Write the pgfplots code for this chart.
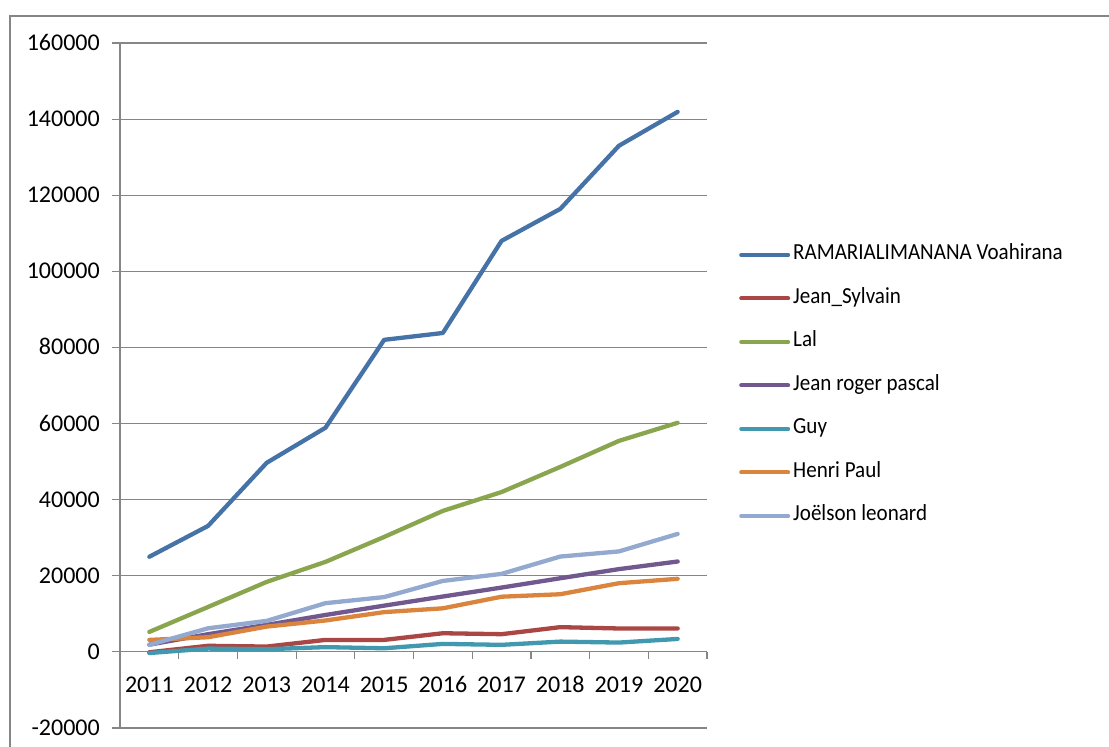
\documentclass[border=0pt]{standalone}
\usepackage{pgfplots}
\pgfplotsset{compat=1.18}
\usepackage{fontspec}
\setmainfont{Carlito}
\newfontfamily\legfont[FakeStretch=0.915]{Carlito}

\definecolor{sBlue}{HTML}{4572A7}
\definecolor{sRed}{HTML}{AA4643}
\definecolor{sGreen}{HTML}{89A54E}
\definecolor{sPurple}{HTML}{71588F}
\definecolor{sTeal}{HTML}{4198AF}
\definecolor{sOrange}{HTML}{DB843D}
\definecolor{sLight}{HTML}{93A9CF}
\definecolor{gridgray}{HTML}{868686}

\begin{document}
\fontsize{24bp}{28bp}\selectfont
\begin{tikzpicture}
\path[use as bounding box] (0bp,0bp) rectangle (1109bp,747bp);
% outer chart frame (only top and left visible)
\draw[gridgray, line width=1.8bp] (10bp,-5bp) -- (10bp,731bp) -- (1115bp,731bp);

\begin{axis}[
    at={(120bp,19bp)}, anchor=south west,
    scale only axis,
    width=587bp, height=685bp,
    xmin=-0.5, xmax=9.5,
    ymin=-20000, ymax=160000,
    axis x line=middle,
    axis y line=left,
    axis line style={-, gridgray, line width=1.2bp},
    hide obscured x ticks=false,
    hide obscured y ticks=false,
    xtick={0,...,9},
    xticklabels={2011,2012,2013,2014,2015,2016,2017,2018,2019,2020},
    major x tick style={draw=none},
    minor xtick={-0.5,0.5,...,9.5},
    minor tick length=7bp,
    xtick align=center,
    minor x tick style={gridgray, line width=1.2bp, yshift=-3.5bp},
    ytick={-20000,0,...,160000},
    ytick align=outside,
    major tick length=8bp,
    y tick style={gridgray, line width=1.2bp},
    scaled y ticks=false,
    yticklabel style={/pgf/number format/fixed, /pgf/number format/1000 sep={},
        xshift=-4bp, text height=15bp, text depth=0bp},
    xticklabel style={yshift=-13bp, text height=15bp, text depth=0bp},
    /pgf/number format/assume math mode=true,
    ymajorgrids=true,
    grid style={gridgray, line width=1.2bp},
    every axis plot/.append style={line width=4.3bp, line join=round, line cap=round},
    legend style={at={(1.0545,0.5)}, anchor=west, draw=none, fill=none,
        inner sep=0pt, row sep=17.5bp,
        font={\legfont\fontsize{23bp}{27bp}\selectfont},
        nodes={inner sep=3bp, text height=15bp, text depth=5bp}},
    legend cell align=left,
    legend image code/.code={\draw[#1, line width=4bp, line cap=round] (0bp,0bp) -- (47bp,0bp);},
]

\addplot[sBlue] coordinates {
(0,25000)(1,33100)(2,49700)(3,58900)(4,82000)(5,83800)(6,108000)(7,116400)(8,133000)(9,141900)};
\addlegendentry{RAMARIALIMANANA Voahirana}

\addplot[sRed] coordinates {
(0,-100)(1,1600)(2,1400)(3,3150)(4,3150)(5,4900)(6,4650)(7,6500)(8,6150)(9,6150)};
\addlegendentry{Jean\_Sylvain}

\addplot[sGreen] coordinates {
(0,5250)(1,11800)(2,18400)(3,23650)(4,30200)(5,37050)(6,42000)(7,48600)(8,55450)(9,60200)};
\addlegendentry{Lal}

\addplot[sPurple] coordinates {
(0,1900)(1,4650)(2,7100)(3,9700)(4,12150)(5,14550)(6,16900)(7,19350)(8,21750)(9,23750)};
\addlegendentry{Jean roger pascal}

\addplot[sTeal] coordinates {
(0,-300)(1,870)(2,700)(3,1250)(4,950)(5,2100)(6,1850)(7,2700)(8,2450)(9,3400)};
\addlegendentry{Guy}

\addplot[sOrange] coordinates {
(0,3150)(1,3850)(2,6650)(3,8250)(4,10450)(5,11450)(6,14500)(7,15150)(8,18050)(9,19200)};
\addlegendentry{Henri Paul}

\addplot[sLight] coordinates {
(0,1850)(1,6200)(2,8150)(3,12800)(4,14400)(5,18650)(6,20500)(7,25050)(8,26400)(9,31000)};
\addlegendentry{Joëlson leonard}

\end{axis}
\end{tikzpicture}
\end{document}
